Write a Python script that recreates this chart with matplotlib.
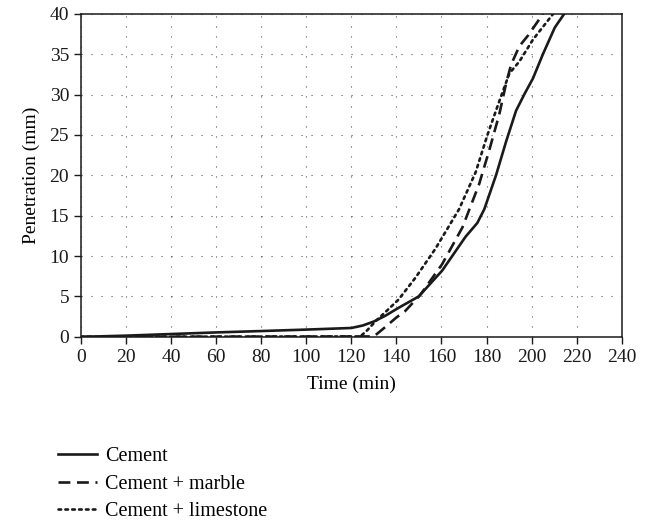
import matplotlib
matplotlib.use('Agg')
import matplotlib.pyplot as plt

plt.rcParams['font.family'] = ['Liberation Serif', 'DejaVu Serif']

# 读图得到的数据
cement_t = [0, 20, 40, 60, 80, 100, 120, 125, 130, 135, 141, 149.9, 160.3, 165.5, 170.7,
            175.9, 179, 184.2, 188.7, 193.1, 196.9, 200.6, 205.1, 210.3, 214.5]
cement_p = [0, 0.15, 0.35, 0.55, 0.72, 0.9, 1.1, 1.4, 1.9, 2.6, 3.6, 5.0, 8.2, 10.3, 12.4,
            14.1, 15.8, 20.0, 24.2, 28.0, 30.1, 32.0, 35.05, 38.3, 40]

marble_t = [0, 120, 130, 135, 140, 143.9, 150.6, 160.3, 169.3, 176.7, 181.2, 185.7,
            188.7, 190.9, 194.6, 198.4, 205.1]
marble_p = [0, 0.05, 0.05, 1.2, 2.4, 3.2, 5.2, 9.0, 13.55, 18.9, 23.1, 27.6,
            31.4, 33.7, 36.0, 37.3, 40]

lime_t = [0, 120, 124, 127, 131, 136, 140.9, 148.4, 157.3, 167.8, 175.2, 180.4, 185.7,
          190.1, 194.6, 200.6, 209.6]
lime_p = [0, 0.05, 0.05, 0.8, 2.0, 3.3, 4.6, 7.3, 10.9, 15.8, 20.4, 25.0, 29.2,
          32.6, 34.1, 36.8, 40]

labels = ['Cement', 'Cement + marble', 'Cement + limestone']

fig = plt.figure(figsize=(6.47, 5.28), dpi=100)
ax = fig.add_axes([0.125, 0.362, 0.836, 0.612])

ax.plot(cement_t, cement_p, color='#1a1a1a', lw=1.9, ls='-', label=labels[0])
ax.plot(marble_t, marble_p, color='#1a1a1a', lw=1.9, ls=(0, (4.5, 2.5)), label=labels[1])
ax.plot(lime_t, lime_p, color='#1a1a1a', lw=1.9, ls=(0, (1, 1.6)), label=labels[2],
        dash_capstyle='round')

ax.set_xlim(0, 240)
ax.set_ylim(0, 40)
ax.set_xticks(range(0, 241, 20))
ax.set_yticks(range(0, 41, 5))
ax.grid(True, color='#555555', lw=0.8, ls=(0, (1, 8)))
ax.tick_params(direction='out', length=5, width=1, labelsize=14, colors='#1a1a1a')
for s in ax.spines.values():
    s.set_linewidth(1.1)
    s.set_color('#1a1a1a')

ax.set_xlabel('Time (min)', fontsize=14, labelpad=7)
ax.set_ylabel('Penetration (mm)', fontsize=14, labelpad=7)

fig.legend(loc='upper left', bbox_to_anchor=(0.062, 0.187), frameon=False,
           fontsize=14.5, handlelength=1.94, handletextpad=0.4, labelspacing=0.41)

fig.savefig('out.png', dpi=100)
